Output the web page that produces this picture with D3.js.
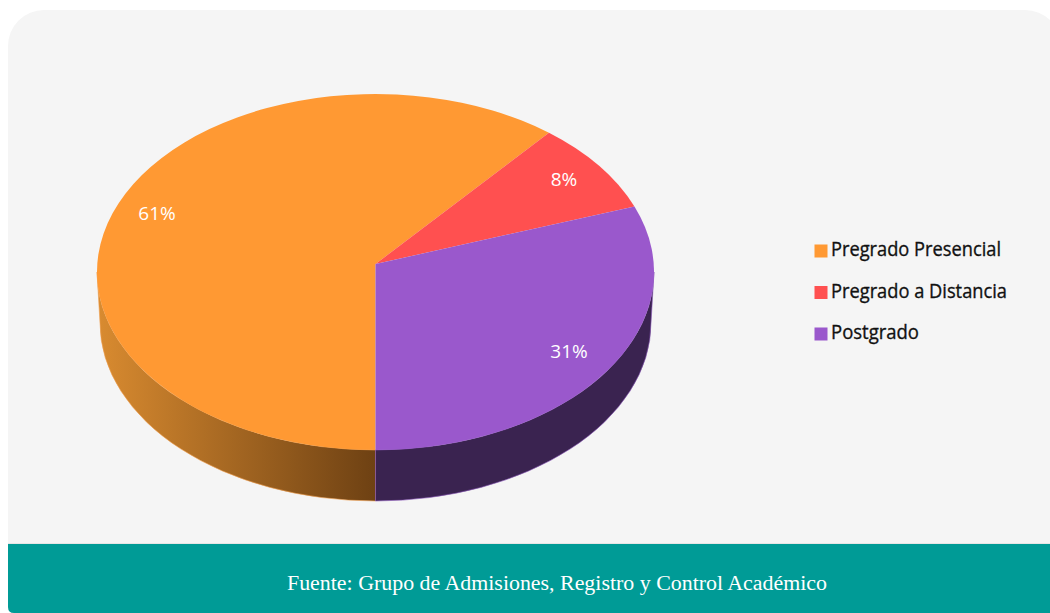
<!DOCTYPE html>
<html><head><meta charset="utf-8">
<script src="https://cdn.jsdelivr.net/npm/d3@7"></script>
<style>html,body{margin:0;padding:0;background:#fff;overflow:hidden}svg{display:block}</style>
</head><body><div id="c"></div>
<script>
const categories = ["Pregrado Presencial", "Pregrado a Distancia", "Postgrado"];
const values = [60.7, 8.3, 31];
const colors = ["#FF9933", "#FF5050", "#9A58CC"];
const footer = "Fuente: Grupo de Admisiones, Registro y Control Académico";

const W = 1050, H = 613;
const svg = d3.select("#c").append("svg").attr("width", W).attr("height", H);

// panel
svg.append("rect").attr("x", 8).attr("y", 10).attr("width", 1053).attr("height", 620).attr("rx", 36).attr("fill", "#F5F5F5");
svg.append("rect").attr("x", 8).attr("y", 543).attr("width", 1082).attr("height", 1).attr("fill", "#E6E6E6");
svg.append("path").attr("d", "M8,544H1050V613H14Q8,613 8,607Z").attr("fill", "#009B96");

// gradient for side
const defs = svg.append("defs");
const g1 = defs.append("linearGradient").attr("id", "sideO").attr("gradientUnits", "userSpaceOnUse")
  .attr("x1", 97).attr("x2", 375).attr("y1", 0).attr("y2", 0);
g1.append("stop").attr("offset", 0).attr("stop-color", "#D98B30");
g1.append("stop").attr("offset", 1).attr("stop-color", "#6E4113");

// scales: unit circle -> ellipses
const xTop = d3.scaleLinear([-1, 1], [97, 654]);
const yTop = d3.scaleLinear([-1, 1], [94, 450]);
const xBot = d3.scaleLinear([-1, 1], [100, 651]);
const yBot = d3.scaleLinear([-1, 1], [145, 501]);
const apex = [xTop(0), 264];

const pie = d3.pie().sort(null).startAngle(Math.PI).endAngle(3 * Math.PI);
const arcs = pie(values);

const pt = (a, xs, ys) => [xs(Math.sin(a)), ys(-Math.cos(a))];
function sliceTop(d) {
  const p0 = pt(d.startAngle, xTop, yTop), p1 = pt(d.endAngle, xTop, yTop);
  const rx = (xTop(1) - xTop(-1)) / 2, ry = (yTop(1) - yTop(-1)) / 2;
  const large = d.endAngle - d.startAngle > Math.PI ? 1 : 0;
  return `M${apex}L${p0}A${rx},${ry} 0 ${large} 1 ${p1}Z`;
}
function side(a0, a1) {
  const p0 = pt(a0, xTop, yTop), p1 = pt(a1, xTop, yTop);
  const q0 = pt(a0, xBot, yBot), q1 = pt(a1, xBot, yBot);
  const rx = (xTop(1) - xTop(-1)) / 2, ry = (yTop(1) - yTop(-1)) / 2;
  const rxb = (xBot(1) - xBot(-1)) / 2, ryb = (yBot(1) - yBot(-1)) / 2;
  return `M${p0}A${rx},${ry} 0 0 1 ${p1}L${q1}A${rxb},${ryb} 0 0 0 ${q0}Z`;
}

// side walls (visible lower half only)
svg.append("path").attr("d", side(Math.PI, 1.5 * Math.PI)).attr("fill", "url(#sideO)").attr("stroke", "#F0A050").attr("stroke-width", .6);
svg.append("path").attr("d", side(Math.PI / 2, Math.PI)).attr("fill", "#3A2350").attr("stroke", "#8A55B8").attr("stroke-width", .6);

// top
svg.append("g").selectAll("path").data(arcs).join("path")
  .attr("d", sliceTop).attr("fill", (d, i) => colors[i]);

// labels
const labelPos = [[157, 213], [564, 179], [569, 351]];
svg.append("g").selectAll("text").data(values).join("text")
  .attr("x", (d, i) => labelPos[i][0]).attr("y", (d, i) => labelPos[i][1])
  .attr("text-anchor", "middle").attr("dominant-baseline", "central")
  .attr("font-family", "'Open Sans'").attr("font-size", 19).attr("fill", "#fff")
  .text(d => Math.round(d) + "%");

// legend
const legY = d3.scalePoint(categories, [251, 334]);
const widths = [170, 176, 88];
const leg = svg.append("g").selectAll("g").data(categories).join("g");
leg.append("rect").attr("x", 814.5).attr("y", d => legY(d) - 6.5).attr("width", 13).attr("height", 13)
  .attr("fill", (d, i) => colors[i]);
leg.append("text").attr("x", 831).attr("y", d => legY(d) + 5)
  .attr("font-family", "'Open Sans'").attr("font-size", 20).attr("fill", "#111")
  .attr("stroke", "#111").attr("stroke-width", 0.35)
  .attr("textLength", (d, i) => widths[i]).attr("lengthAdjust", "spacingAndGlyphs").text(d => d);

// footer
svg.append("text").attr("x", 287).attr("y", 590)
  .attr("font-family", "'Liberation Serif'").attr("font-size", 20).attr("fill", "#fff")
  .attr("textLength", 540).attr("lengthAdjust", "spacingAndGlyphs").text(footer);
</script></body></html>
